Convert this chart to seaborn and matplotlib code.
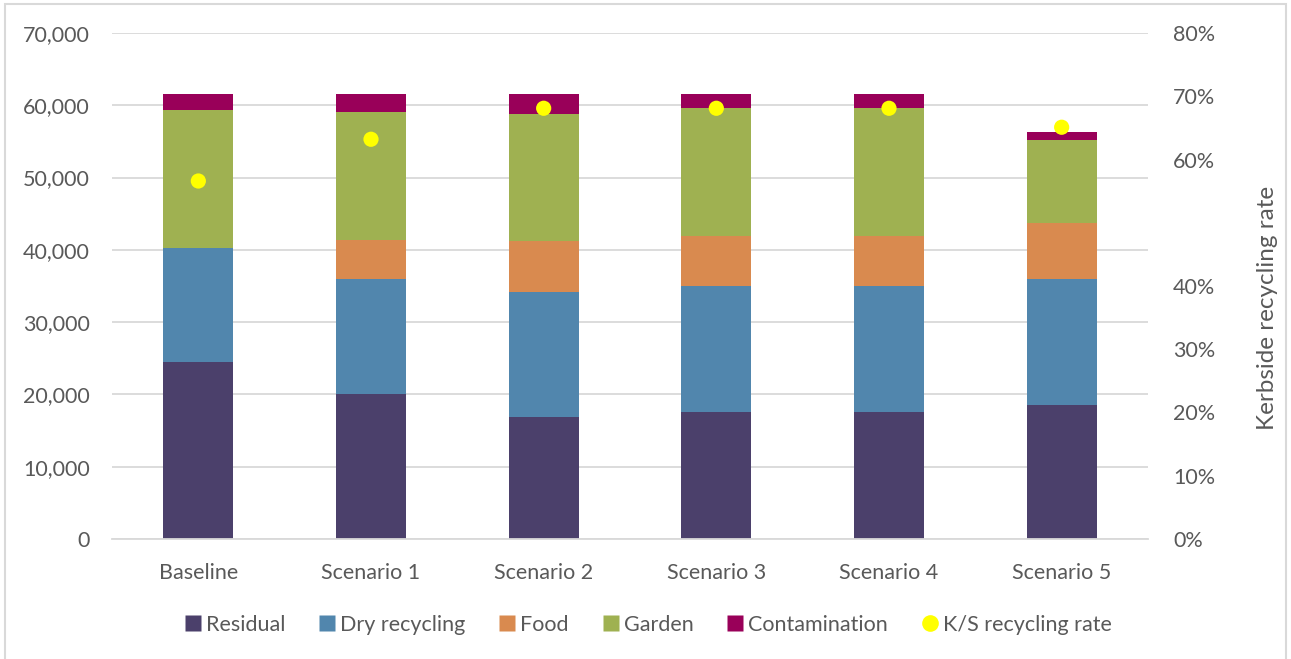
import numpy as np
import pandas as pd
import matplotlib
matplotlib.use("Agg")
import matplotlib.pyplot as plt
from matplotlib.patches import Rectangle
from matplotlib.lines import Line2D
from matplotlib.ticker import FuncFormatter
import seaborn as sns

categories = ["Baseline", "Scenario 1", "Scenario 2", "Scenario 3", "Scenario 4", "Scenario 5"]
residual = [24500, 20050, 16900, 17550, 17550, 18550]
dry_recycling = [15750, 15900, 17250, 17450, 17450, 17400]
food = [0, 5400, 7050, 6900, 6900, 7750]
garden = [19100, 17700, 17550, 17700, 17700, 11500]
contamination = [2200, 2500, 2750, 1950, 1950, 1100]
ks_rate = [0.566, 0.632, 0.681, 0.681, 0.681, 0.651]

series_names = ["Residual", "Dry recycling", "Food", "Garden", "Contamination"]
series_vals = [residual, dry_recycling, food, garden, contamination]
colors = ["#4B406B", "#5186AD", "#D98A4F", "#9FB151", "#990059"]
dot_color = "#FFFF00"
text_color = "#595959"
grid_color = "#D9D9D9"

sns.set_theme(style="white")
plt.rcParams["font.family"] = ["Lato", "DejaVu Sans"]

fig = plt.figure(figsize=(12.91, 6.59), dpi=100)
ax = fig.add_axes([112 / 1291, 1 - 539 / 659, (1148 - 112) / 1291, (539 - 33) / 659])

cum = np.cumsum(np.array(series_vals, dtype=float), axis=0)
# draw from top layer down so lower layers overlay
for i in range(len(series_names) - 1, -1, -1):
    df = pd.DataFrame({"cat": categories, "val": cum[i]})
    sns.barplot(data=df, x="cat", y="val", color=colors[i], width=0.405,
                saturation=1, ax=ax, zorder=2, linewidth=0)

ax.set_xlim(-0.5, len(categories) - 0.5)
ax.set_ylim(0, 70000)
ax.set_yticks(np.arange(0, 70001, 10000))
ax.yaxis.set_major_formatter(FuncFormatter(lambda v, p: f"{int(v):,}"))
ax.grid(axis="y", color=grid_color, linewidth=1.3, zorder=0)
ax.set_axisbelow(True)
for s in ["left", "right", "top"]:
    ax.spines[s].set_visible(False)
ax.spines["bottom"].set_color(grid_color)
ax.spines["bottom"].set_linewidth(1.3)
ax.set_xlabel("")
ax.set_ylabel("")
ax.tick_params(axis="y", length=0, pad=16, labelsize=15.5, labelcolor=text_color)
ax.tick_params(axis="x", length=0, pad=17, labelsize=15.5, labelcolor=text_color)

ax2 = ax.twinx()
sns.scatterplot(x=np.arange(len(categories)), y=ks_rate, ax=ax2, color=dot_color,
                s=120, edgecolor="none", zorder=5)
ax2.set_ylim(0, 0.8)
ticks = np.round(np.arange(0, 0.81, 0.1), 2)
ax2.set_yticks(ticks)
ax2.set_yticklabels(["" if abs(t - 0.5) < 1e-6 else f"{int(round(t * 100))}%" for t in ticks])
ax2.tick_params(axis="y", length=0, pad=18, labelsize=15.5, labelcolor=text_color)
for s in ["left", "right", "top", "bottom"]:
    ax2.spines[s].set_visible(False)
ax2.set_ylabel("")
ax2.grid(False)
fig.text(1267 / 1291, 1 - 308 / 659, "Kerbside recycling rate", rotation=90,
         ha="center", va="center", fontsize=17.5, color=text_color)

handles = [Line2D([0], [0], marker="s", linestyle="none", markersize=11,
                  markerfacecolor=c, markeredgecolor="none") for c in colors]
handles.append(Line2D([0], [0], marker="o", linestyle="none", markersize=12,
                      markerfacecolor=dot_color, markeredgecolor="none"))
labels = series_names + ["K/S recycling rate"]
leg = fig.legend(handles, labels, loc="center", bbox_to_anchor=(647 / 1291, 1 - 625 / 659),
                 ncol=6, frameon=False, fontsize=15.5, handletextpad=0.1,
                 columnspacing=1.45, handlelength=1.0)
for t in leg.get_texts():
    t.set_color(text_color)

fig.patches.append(Rectangle((5 / 1291, -0.1), (1286 - 5) / 1291, 0.1 + (1 - 4 / 659),
                             transform=fig.transFigure, fill=False,
                             edgecolor=grid_color, linewidth=1.5))

fig.savefig("out.png", dpi=100)
